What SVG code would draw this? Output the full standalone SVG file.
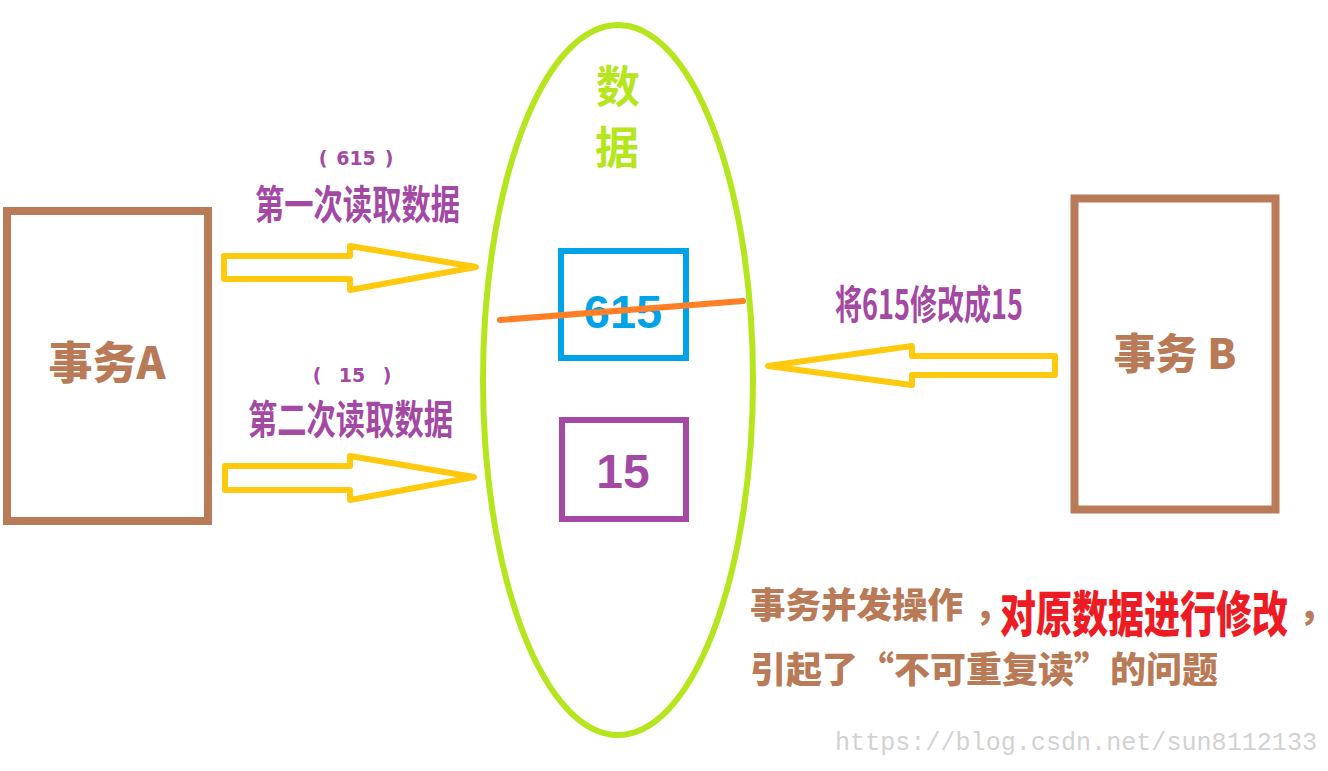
<svg xmlns="http://www.w3.org/2000/svg" width="1328" height="771" viewBox="0 0 1328 771">
<style>
.cjk{font-family:"Noto Sans CJK SC","Liberation Sans",sans-serif;font-weight:700}
.heavy{font-weight:900}
.num{font-family:"Liberation Sans","Noto Sans CJK SC",sans-serif;font-weight:700}
.par{font-family:"DejaVu Sans","Noto Sans CJK SC",sans-serif;font-weight:700;font-size:19px}
.brown{fill:#b97a57}
.purple{fill:#a349a4}
.box{fill:#fff;stroke:#b97a57;stroke-width:8}
.arrow{fill:#fff;stroke:#ffc90e;stroke-width:6;stroke-linejoin:round}
</style>
<rect width="1328" height="771" fill="#fff"/>
<g id="data">
<ellipse cx="618" cy="380" rx="135" ry="355" fill="none" stroke="#b5e61d" stroke-width="6"/>
<text class="cjk" x="618" y="103" font-size="44" fill="#b5e61d" text-anchor="middle">数</text>
<text class="cjk" x="617" y="164" font-size="44" fill="#b5e61d" text-anchor="middle">据</text>
</g>
<g id="txA">
<rect class="box" x="7" y="211" width="201" height="310"/>
<text class="cjk heavy brown" x="107" y="379" font-size="44" text-anchor="middle">事务A</text>
</g>
<g id="txB">
<rect class="box" x="1074.5" y="198.5" width="201" height="311"/>
<text class="cjk heavy brown" x="1175" y="369" font-size="42" text-anchor="middle">事务 B</text>
</g>
<g id="v615">
<rect x="561" y="251" width="125" height="107" fill="none" stroke="#00a2e8" stroke-width="6"/>
<text class="num" x="623" y="328" font-size="47" fill="#00a2e8" text-anchor="middle">615</text>
</g>
<g id="v15">
<rect x="562" y="420" width="124" height="99" fill="none" stroke="#a349a4" stroke-width="6"/>
<text class="num purple" x="623" y="488" font-size="48" text-anchor="middle">15</text>
</g>
<g id="strike">
<line x1="500" y1="320" x2="743" y2="301" stroke="#ff7f27" stroke-width="6" stroke-linecap="round"/>
</g>
<g id="connectors">
<polygon class="arrow" points="224,256 350,256 350,246 476,267 350,290 350,279 224,279"/>
<polygon class="arrow" points="225,466 350,466 350,456 474,477 350,500 350,490 225,490"/>
<polygon class="arrow" points="768,366 912,346 912,356 1055,356 1055,375 912,375 912,385"/>
</g>
<g id="labels">
<text class="par purple" x="323" y="165" text-anchor="middle">(</text>
<text class="par purple" x="356" y="165" text-anchor="middle">615</text>
<text class="par purple" x="389" y="165" text-anchor="middle">)</text>
<text class="par purple" x="317" y="382" text-anchor="middle">(</text>
<text class="par purple" x="352" y="382" text-anchor="middle">15</text>
<text class="par purple" x="387" y="382" text-anchor="middle">)</text>
<text class="cjk purple" transform="translate(255,219) scale(1,1.35)" font-size="29.3">第一次读取数据</text>
<text class="cjk purple" transform="translate(248,434) scale(1,1.35)" font-size="29.3">第二次读取数据</text>
<text class="cjk purple" x="835" y="319" font-size="40" textLength="188" lengthAdjust="spacingAndGlyphs">将615修改成15</text>
</g>
<g id="note">
<text class="cjk heavy brown" x="750" y="618" font-size="35.5">事务并发操作</text>
<text class="cjk heavy brown" x="979" y="618" font-size="36">,</text>
<text class="cjk heavy" transform="translate(1000,632) scale(1,1.35)" font-size="36" fill="#ed1c24">对原数据进行修改</text>
<text class="cjk heavy brown" x="1303" y="618" font-size="36">,</text>
<text class="cjk heavy brown" x="750" y="683" font-size="36">引起了“不可重复读”的问题</text>
</g>
<text x="835" y="750" font-family="'Liberation Mono',monospace" font-size="25" fill="#d2d2d2" textLength="482" lengthAdjust="spacingAndGlyphs">https://blog.csdn.net/sun8112133</text>
</svg>
